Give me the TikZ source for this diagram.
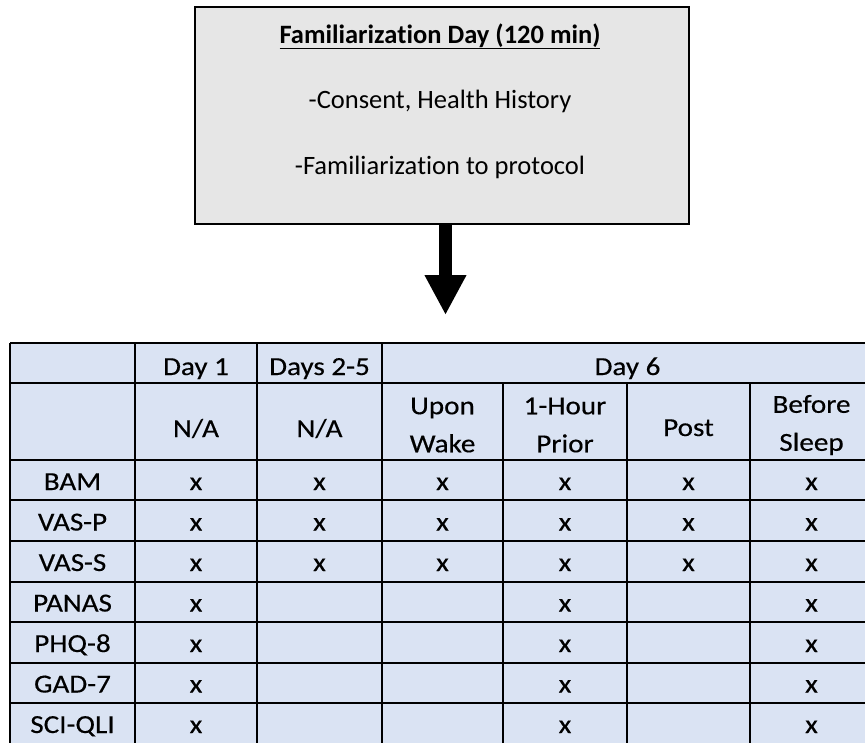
\documentclass[tikz,border=0pt]{standalone}
\usepackage{fontspec}
\setmainfont{Carlito}[RawFeature={-liga;-clig;-calt;-dlig}]
\newfontfamily\tablefont[FakeStretch=1.12,FakeBold=0.4,RawFeature={-liga;-clig;-calt;-dlig}]{Carlito}
\usetikzlibrary{arrows.meta}
\definecolor{boxgray}{HTML}{E6E6E6}
\definecolor{cellblue}{HTML}{DAE3F3}
\begin{document}
\begin{tikzpicture}[x=1pt,y=-1pt,
  boxtext/.style={font=\fontsize{26.5}{32}\selectfont, inner sep=0pt, anchor=base},
  celltext/.style={font=\tablefont\fontsize{26}{38}\selectfont, align=center, inner sep=0pt},
  gridline/.style={line width=1.6pt, black}]
\useasboundingbox (0,0) rectangle (865,742);
\clip (0,0) rectangle (865,742);
% top box
\node[draw=black, line width=2pt, fill=boxgray, minimum width=494pt, minimum height=217pt,
      anchor=north west, inner sep=0pt] (famBox) at (194,6) {};
\node[boxtext, font=\fontsize{26.5}{32}\selectfont\bfseries] (famTitle) at (440,43) {\underline{Familiariza\kern0pt tion Day (120 min)}};
\node[boxtext] (famLineA) at (440,108) {-Consent, Health History};
\node[boxtext] (famLineB) at (440,174) {-Familiariza\kern0pt tion to protocol};
% arrow
\coordinate (arrowTip) at (445.5,315);
\draw[line width=13pt, -{Triangle[width=39pt,length=40pt]}] (famBox.south -| arrowTip) -- (arrowTip);
% table
\fill[cellblue] (10,343) rectangle (880,760);
\foreach \yy in {343,383,460,500,541,582,622,663,703}
  \draw[gridline] (10,\yy) -- (880,\yy);
\draw[gridline, line width=2.2pt] (10,343) -- (10,760);
\foreach \xx in {135,257,382}
  \draw[gridline] (\xx,343) -- (\xx,760);
\foreach \xx in {503,627,750}
  \draw[gridline] (\xx,383) -- (\xx,760);
% headers
\node[celltext, anchor=base] (hDayOne) at (196,375) {Day 1};
\node[celltext, anchor=base] (hDaysTwo) at (319.5,375) {Days 2-5};
\node[celltext, anchor=base] (hDaySix) at (627.5,375) {Day 6};
\node[celltext, anchor=base] (naOne) at (196,437) {N/A};
\node[celltext, anchor=base] (naTwo) at (319.5,437) {N/A};
\node[celltext] (upWake) at (442.5,425) {Upon\\Wake};
\node[celltext] (hourPrior) at (565,425) {1-Hour\\Prior};
\node[celltext, anchor=base] (postCell) at (688.5,436) {Post};
\node[celltext] (beforeSleep) at (811.5,425) {Before\\Sleep};
% row labels
\foreach \lab [count=\i from 0] in {BAM,VAS-P,VAS-S,PANAS,PHQ-8,GAD-7,SCI-QLI}
  \node[celltext, anchor=base] (lab\i) at (72.5,{490+40.5*\i}) {\lab};
% marks
\foreach \i in {0,1,2}
  \foreach \c/\cx in {1/196,2/319.5,3/442.5,4/565,5/688.5,6/811.5}
    \node[celltext, anchor=base] (mark\i\c) at (\cx,{490+40.5*\i}) {x};
\foreach \i in {3,4,5,6}
  \foreach \c/\cx in {1/196,4/565,6/811.5}
    \node[celltext, anchor=base] (mark\i\c) at (\cx,{490+40.5*\i}) {x};
\end{tikzpicture}
\end{document}
